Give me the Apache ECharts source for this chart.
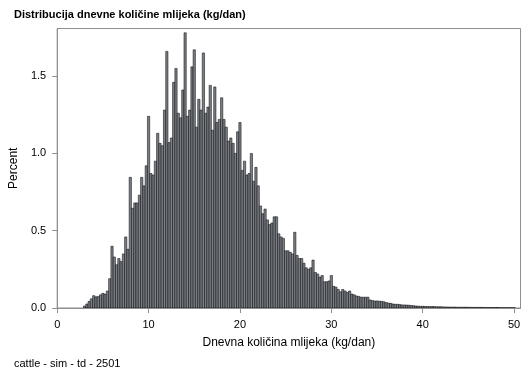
<!DOCTYPE html>
<html>
<head>
<meta charset="utf-8">
<script src="https://cdn.jsdelivr.net/npm/echarts@6/dist/echarts.min.js"></script>
<style>html,body{margin:0;padding:0;background:#fff;}#c{width:529px;height:378px;}</style>
</head>
<body>
<div id="c"></div>
<script>
var titleText = 'Distribucija dnevne količine mlijeka (kg/dan)';
var footText = 'cattle - sim - td - 2501';
var xName = 'Dnevna količina mlijeka (kg/dan)';
var yName = 'Percent';
var xTicks = [0, 10, 20, 30, 40, 50];
var yTicks = [0, 0.5, 1.0, 1.5];
var binWidth = 0.25;
var midpoints = [
 3.00,3.25,3.50,3.75,4.00,4.25,4.50,4.75,5.00,5.25,5.50,5.75,6.00,6.25,6.50,6.75,7.00,7.25,7.50,7.75,
 8.00,8.25,8.50,8.75,9.00,9.25,9.50,9.75,10.00,10.25,10.50,10.75,11.00,11.25,11.50,11.75,12.00,12.25,12.50,12.75,
 13.00,13.25,13.50,13.75,14.00,14.25,14.50,14.75,15.00,15.25,15.50,15.75,16.00,16.25,16.50,16.75,17.00,17.25,17.50,17.75,
 18.00,18.25,18.50,18.75,19.00,19.25,19.50,19.75,20.00,20.25,20.50,20.75,21.00,21.25,21.50,21.75,22.00,22.25,22.50,22.75,
 23.00,23.25,23.50,23.75,24.00,24.25,24.50,24.75,25.00,25.25,25.50,25.75,26.00,26.25,26.50,26.75,27.00,27.25,27.50,27.75,
 28.00,28.25,28.50,28.75,29.00,29.25,29.50,29.75,30.00,30.25,30.50,30.75,31.00,31.25,31.50,31.75,32.00,32.25,32.50,32.75,
 33.00,33.25,33.50,33.75,34.00,34.25,34.50,34.75,35.00,35.25,35.50,35.75,36.00,36.25,36.50,36.75,37.00,37.25,37.50,37.75,
 38.00,38.25,38.50,38.75,39.00,39.25,39.50,39.75,40.00,40.25,40.50,40.75,41.00,41.25,41.50,41.75,42.00,42.25,42.50,42.75,
 43.00,43.25,43.50,43.75,44.00,44.25,44.50,44.75,45.00,45.25,45.50,45.75,46.00,46.25,46.50,46.75,47.00,47.25,47.50,47.75,
 48.00,48.25,48.50,48.75,49.00,49.25,49.50,49.75,50.00
];
var percents = [
 0.013,0.026,0.043,0.060,0.080,0.072,0.075,0.085,0.095,0.090,0.110,0.190,0.400,0.330,0.280,0.320,0.300,0.350,0.460,0.380,
 0.845,0.645,0.680,0.680,0.730,0.845,0.790,0.920,1.240,0.870,0.860,0.950,1.130,1.065,1.050,1.280,1.660,1.070,1.100,1.460,
 1.550,1.260,1.230,1.410,1.780,1.240,1.280,1.560,1.670,1.170,1.350,1.280,1.650,1.260,1.300,1.440,1.150,1.430,1.200,1.220,
 1.360,1.220,1.170,1.080,1.100,1.065,1.000,1.140,1.200,0.890,0.950,0.860,0.870,1.000,0.820,0.910,0.790,0.660,0.610,0.640,
 0.570,0.540,0.550,0.590,0.590,0.480,0.460,0.450,0.370,0.370,0.360,0.350,0.490,0.340,0.320,0.320,0.290,0.260,0.250,0.260,
 0.310,0.230,0.220,0.200,0.210,0.170,0.170,0.175,0.210,0.140,0.135,0.120,0.105,0.120,0.110,0.100,0.110,0.090,0.085,0.078,
 0.075,0.070,0.070,0.070,0.070,0.052,0.048,0.045,0.046,0.044,0.043,0.040,0.035,0.032,0.030,0.026,0.024,0.024,0.022,0.020,
 0.020,0.019,0.018,0.016,0.015,0.013,0.012,0.011,0.011,0.010,0.010,0.009,0.009,0.009,0.008,0.008,0.008,0.007,0.007,0.006,
 0.006,0.006,0.006,0.005,0.005,0.005,0.005,0.005,0.005,0.004,0.004,0.004,0.004,0.004,0.004,0.003,0.003,0.003,0.003,0.003,
 0.003,0.003,0.002,0.002,0.002,0.002,0.002,0.002,0.002
];

var data = midpoints.map(function (m, i) { return [m, percents[i]]; });
var font = '"Liberation Sans", Arial, sans-serif';
var chart = echarts.init(document.getElementById('c'), null, {renderer: 'canvas'});
chart.setOption({
  animation: false,
  backgroundColor: '#fff',
  title: [
    {text: titleText, left: 9, top: 4, textStyle: {fontFamily: font, fontSize: 11, fontWeight: 'bold', color: '#000'}},
    {text: footText, left: 9, top: 353, textStyle: {fontFamily: font, fontSize: 11, fontWeight: 'normal', color: '#000'}}
  ],
  grid: {left: 56, right: 8.5, top: 28.5, bottom: 70, show: true, borderColor: '#8f8f8f', borderWidth: 1, backgroundColor: 'transparent'},
  xAxis: {
    type: 'value', min: 0, max: 50.7,
    name: xName, nameLocation: 'middle', nameGap: 29,
    nameTextStyle: {fontFamily: font, fontSize: 12, color: '#000'},
    axisLine: {show: true, lineStyle: {color: '#8f8f8f'}},
    axisTick: {show: true, length: 5, lineStyle: {color: '#8f8f8f'}, customValues: xTicks},
    axisLabel: {fontFamily: font, fontSize: 11, color: '#000', margin: 11, customValues: xTicks},
    splitLine: {show: false}
  },
  yAxis: {
    type: 'value', min: 0, max: 1.808,
    name: yName, nameLocation: 'middle', nameGap: 35,
    nameTextStyle: {fontFamily: font, fontSize: 12, color: '#000'},
    axisLine: {show: true, lineStyle: {color: '#8f8f8f'}},
    axisTick: {show: true, length: 5, lineStyle: {color: '#8f8f8f'}, customValues: yTicks},
    axisLabel: {fontFamily: font, fontSize: 11, color: '#000', margin: 11, customValues: yTicks,
      formatter: function (v) { return v.toFixed(1); }},
    splitLine: {show: false}
  },
  series: [{
    type: 'custom',
    data: data,
    clip: true,
    renderItem: function (params, api) {
      var x = api.value(0), y = api.value(1);
      var p0 = api.coord([x - binWidth / 2, y]);
      var p1 = api.coord([x + binWidth / 2, 0]);
      return {
        type: 'rect',
        shape: {x: p0[0], y: p0[1], width: p1[0] - p0[0], height: p1[1] - p0[1]},
        style: {fill: '#7a7e86', stroke: '#000', lineWidth: 0.5}
      };
    }
  }]
});
</script>
</body>
</html>
